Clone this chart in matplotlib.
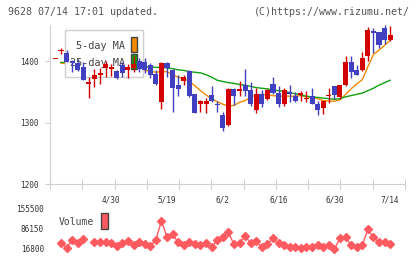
import numpy as np
import matplotlib
matplotlib.use("Agg")
import matplotlib.pyplot as plt
from matplotlib.patches import Rectangle

W, H = 420, 259

# daily candles (open, high, low, close), oldest first
opens = [1404, 1417, 1413, 1401, 1397, 1390, 1363, 1371, 1377, 1389,
         1387, 1384, 1394, 1385, 1389, 1400, 1399, 1394, 1379, 1333,
         1397, 1386, 1361, 1368, 1384, 1347, 1330, 1330, 1345, 1331,
         1313, 1296, 1355, 1351, 1361, 1353, 1320, 1347, 1338, 1363,
         1348, 1330, 1350, 1343, 1345, 1339, 1344, 1331, 1323, 1343,
         1359, 1342, 1361, 1398, 1385, 1385, 1408, 1449, 1447, 1454, 1434]
highs = [1404, 1422, 1419, 1402, 1404, 1398, 1374, 1388, 1389, 1400,
         1395, 1386, 1399, 1396, 1408, 1406, 1406, 1397, 1386, 1398,
         1398, 1387, 1378, 1377, 1386, 1347, 1337, 1340, 1359, 1335,
         1318, 1356, 1356, 1368, 1387, 1366, 1357, 1353, 1354, 1375,
         1359, 1356, 1362, 1350, 1351, 1351, 1357, 1335, 1336, 1357,
         1360, 1362, 1408, 1408, 1394, 1415, 1456, 1454, 1448, 1459, 1457]
lows = [1404, 1411, 1398, 1382, 1384, 1369, 1340, 1358, 1363, 1375,
        1376, 1371, 1375, 1372, 1383, 1382, 1380, 1372, 1362, 1322,
        1374, 1318, 1344, 1361, 1342, 1315, 1318, 1316, 1334, 1317,
        1287, 1295, 1328, 1343, 1343, 1327, 1316, 1325, 1337, 1347,
        1326, 1327, 1334, 1333, 1336, 1333, 1330, 1312, 1314, 1332,
        1339, 1339, 1360, 1372, 1377, 1384, 1401, 1413, 1421, 1428, 1433]
closes = [1404, 1417, 1398, 1397, 1386, 1370, 1366, 1378, 1380, 1396,
          1391, 1372, 1380, 1391, 1396, 1387, 1386, 1378, 1363, 1397,
          1389, 1356, 1355, 1374, 1344, 1315, 1336, 1335, 1335, 1328,
          1292, 1355, 1343, 1355, 1352, 1330, 1347, 1330, 1353, 1349,
          1330, 1353, 1347, 1336, 1348, 1339, 1331, 1321, 1335, 1343,
          1345, 1361, 1398, 1382, 1378, 1406, 1451, 1446, 1426, 1434, 1442]

nan = np.nan
ma5 = [nan, 1397, 1396, 1394, 1392, 1389, 1384, 1380, 1378, 1378,
       1381, 1382, 1383, 1384, 1385, 1385, 1385, 1384, 1382, 1383,
       1383, 1378, 1374, 1372, 1367, 1360, 1352, 1345, 1339, 1334,
       1330, 1327, 1328, 1333, 1336, 1341, 1345, 1346, 1345, 1344,
       1343, 1343, 1343, 1343, 1344, 1342, 1341, 1339, 1336, 1335,
       1335, 1337, 1346, 1355, 1363, 1370, 1391, 1411, 1418, 1426, 1434]
ma25 = [nan, 1398, 1398, 1397, 1397, 1396, 1396, 1395, 1395, 1394,
        1394, 1393, 1393, 1392, 1392, 1391, 1391, 1391, 1390, 1390,
        1389, 1388, 1386, 1385, 1383, 1382, 1381, 1378, 1374, 1369,
        1367, 1365, 1364, 1362, 1361, 1359, 1357, 1356, 1355, 1353,
        1352, 1351, 1349, 1347, 1345, 1343, 1342, 1341, 1340, 1339,
        1338, 1339, 1342, 1344, 1346, 1348, 1352, 1356, 1361, 1365, 1369]

volume = [nan, 36600, 21300, 48000, 36600, 51500, nan, 40000, 40000, 40000,
          36600, 27200, 36600, 44500, 29600, 40000, 33100, 27200, 48000, 113900,
          57400, 67800, 40000, 29600, 40000, 35200, 29600, 36600, 22700, 47000,
          57400, 74700, 33100, 36600, 61900, 36600, 43500, 22700, 33100, 53900,
          36600, 29600, 22700, 22700, 19200, 22700, 22700, 29600, 22700, 29600,
          15800, 53900, 57400, 29600, 22700, 29600, 85100, 57400, 40000, 40000, 33100]

date_labels = ["4/30", "5/19", "6/2", "6/16", "6/30", "7/14"]
date_index = [10, 20, 30, 40, 50, 60]
vol_ticks = [16800, 86150, 155500]

RED = "#d40000"
BLUE = "#4040c0"
ORANGE = "#f08a00"
GREEN = "#10a010"
VOLC = "#ff5a5f"
GRID = "#d0d0d0"
TXT = "#333333"
MONO = "DejaVu Sans Mono"

fig = plt.figure(figsize=(W / 100, H / 100), dpi=100)


def fx(px):
    return px / W


def fy(py):
    return 1 - py / H


# main price panel
ax = fig.add_axes([fx(50), fy(184), (405 - 50) / W, (184 - 25) / H])
x = np.arange(len(closes))
o = np.array(opens, float)
c = np.array(closes, float)
up = c >= o
cols = np.where(up, RED, BLUE)

ax.plot(x, ma5, color=ORANGE, lw=1, zorder=1)
ax.plot(x, ma25, color=GREEN, lw=1, zorder=1)

ax.vlines(x, lows, highs, colors=cols, lw=1, zorder=4)
body_h = np.maximum(np.abs(c - o), 1.6)
ax.bar(x, body_h, bottom=np.minimum(o, c), width=0.9, color=cols, lw=0, zorder=4)

# moving-average legend: over the MA lines, under the candles
ax.add_patch(Rectangle((fx(65), fy(77)), 78 / W, 47 / H, transform=fig.transFigure,
                       facecolor="white", edgecolor=GRID, lw=1, zorder=2, clip_on=False))
ax.text(fx(125), fy(46), "5-day MA", transform=fig.transFigure, ha="right", va="center",
        family=MONO, fontsize=7.3, color="#444444", zorder=3)
ax.text(fx(125), fy(63), "25-day MA", transform=fig.transFigure, ha="right", va="center",
        family=MONO, fontsize=7.3, color="#444444", zorder=3)
ax.add_patch(Rectangle((fx(131), fy(52)), 6 / W, 15 / H, transform=fig.transFigure,
                       facecolor=ORANGE, edgecolor="#444444", lw=1, zorder=3, clip_on=False))
ax.add_patch(Rectangle((fx(131), fy(69)), 6 / W, 15 / H, transform=fig.transFigure,
                       facecolor=GREEN, edgecolor="#444444", lw=1, zorder=3, clip_on=False))

ax.set_xlim(-0.97, 62.66)
ax.set_ylim(1200, 1459)
for s in ["top", "right"]:
    ax.spines[s].set_visible(False)
for s in ["left", "bottom"]:
    ax.spines[s].set_color(GRID)
ax.set_yticks([1200, 1300, 1400])
ax.tick_params(axis="y", colors=GRID, labelcolor=TXT, labelsize=5.6, length=3.6, pad=4.3)
ax.set_xticks(np.linspace(-0.97, 62.66, 12))
ax.set_xticks(date_index, minor=True)
ax.set_xticklabels([])
ax.set_xticklabels(date_labels, minor=True)
ax.tick_params(axis="x", which="major", direction="inout", length=6.5, colors=GRID)
ax.tick_params(axis="x", which="minor", length=0, pad=8, labelcolor=TXT, labelsize=5.6)
for lab in ax.get_xticklabels(minor=True) + ax.get_yticklabels():
    lab.set_family(MONO)

# volume panel
axv = fig.add_axes([fx(50), fy(249), (405 - 50) / W, (249 - 209) / H])
axv.plot(x, volume, color=VOLC, lw=1, marker="D", markersize=3.8, clip_on=False)
axv.set_xlim(-0.97, 62.66)
axv.set_ylim(16800, 155500)
axv.set_yticks(vol_ticks)
axv.set_yticklabels([str(v) for v in vol_ticks], family=MONO)
axv.tick_params(axis="y", length=0, pad=4.3, labelsize=5.6, labelcolor=TXT)
axv.set_xticks([])
for s in axv.spines.values():
    s.set_visible(False)
axv.patch.set_alpha(0)
fig.text(fx(59), fy(222), "Volume", ha="left", va="center", family=MONO,
         fontsize=7.0, color="#444444")
fig.patches.append(Rectangle((fx(101), fy(229)), 7 / W, 16 / H, transform=fig.transFigure,
                             facecolor=VOLC, edgecolor="#444444", lw=1))

# header
fig.text(fx(8), fy(12), "9628 07/14 17:01 updated.", ha="left", va="center",
         family=MONO, fontsize=7.2, color="#555555")
fig.text(fx(410), fy(12), "(C)https://www.rizumu.net/", ha="right", va="center",
         family=MONO, fontsize=7.2, color="#555555")

fig.savefig("out.png", dpi=100)
